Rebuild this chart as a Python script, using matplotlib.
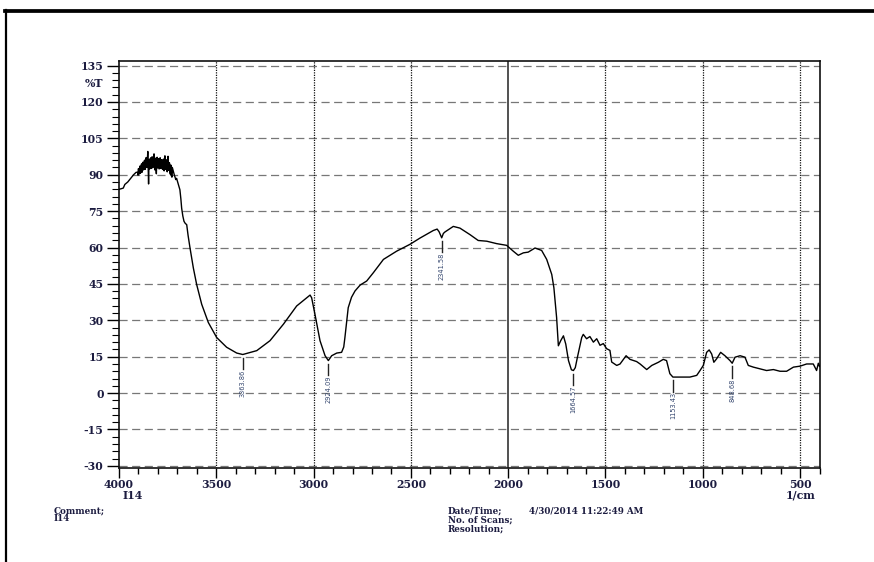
import matplotlib
matplotlib.use("Agg")
import matplotlib.pyplot as plt
from matplotlib.ticker import FixedLocator, MultipleLocator
from matplotlib.lines import Line2D

# ---- spectrum: wavenumber (1/cm) and transmittance (%T) ----
wn_start = [4000, 3990, 3978, 3970, 3955, 3940, 3925, 3912]
t_start = [84.0, 84.2, 84.5, 86.0, 87.0, 88.5, 90.0, 91.0]

# noisy plateau near 3900-3720
wn_noise = [3904, 3902, 3900, 3898, 3896, 3894, 3892, 3890, 3888, 3886,
            3884, 3882, 3880, 3878, 3876, 3874, 3872, 3870, 3868, 3866,
            3864, 3862, 3860, 3858, 3856, 3854, 3852, 3850, 3848, 3846,
            3844, 3842, 3840, 3838, 3836, 3834, 3832, 3830, 3828, 3826,
            3824, 3822, 3820, 3818, 3816, 3814, 3812, 3810, 3808, 3806,
            3804, 3802, 3800, 3798, 3796, 3794, 3792, 3790, 3788, 3786,
            3784, 3782, 3780, 3778, 3776, 3774, 3772, 3770, 3768, 3766,
            3764, 3762, 3760, 3758, 3756, 3754, 3752, 3750, 3748, 3746,
            3744, 3742, 3740, 3738, 3736, 3734, 3732, 3730, 3728, 3726,
            3724]
t_noise = [91.0, 89.8, 92.5, 90.2, 90.8, 92.9, 93.6, 90.6, 91.2, 93.8,
           94.5, 91.0, 91.8, 94.6, 95.2, 92.0, 92.4, 95.8, 96.0, 92.2,
           92.8, 96.3, 97.1, 93.4, 93.0, 96.6, 99.6, 92.8, 86.2, 95.2,
           96.4, 92.4, 93.2, 96.8, 97.0, 92.8, 92.6, 97.4, 96.2, 93.0,
           93.8, 96.0, 98.6, 93.2, 92.0, 96.2, 96.8, 92.6, 90.4, 95.8,
           97.2, 92.8, 93.4, 96.6, 95.8, 92.4, 92.6, 96.8, 97.0, 92.6,
           93.0, 96.2, 95.6, 92.6, 92.2, 96.0, 96.4, 92.0, 91.6, 96.6,
           97.8, 92.2, 92.8, 96.2, 95.4, 91.8, 91.2, 95.8, 97.6, 91.8,
           92.0, 95.0, 94.8, 90.8, 90.2, 94.0, 93.8, 89.6, 89.0, 93.0,
           92.4]

wn_main = [3716, 3708, 3704, 3695, 3687, 3682, 3678, 3672, 3666, 3660,
           3652, 3645, 3635, 3618, 3601, 3575, 3541, 3498, 3447, 3395,
           3363.86, 3292, 3224, 3155, 3087, 3035, 3018, 3010, 2993, 2967,
           2941, 2924.09, 2907, 2881, 2856, 2845, 2839, 2822, 2805, 2787,
           2761, 2727, 2693, 2641, 2573, 2505, 2453, 2385, 2365, 2355,
           2341.58, 2333, 2325, 2282, 2248, 2196, 2154, 2110, 2059, 2008,
           1974, 1948, 1922, 1897, 1862, 1828, 1802, 1776, 1765, 1751,
           1742, 1730, 1716, 1704, 1690, 1675, 1664.57, 1655, 1644, 1622,
           1614, 1597, 1580, 1562, 1545, 1528, 1511, 1494, 1477, 1468,
           1442, 1425, 1394, 1374, 1340, 1322, 1288, 1262, 1228, 1203,
           1186, 1169, 1153.43, 1117, 1066, 1031, 1014, 997, 980, 967,
           954, 943, 929, 908, 886, 860, 848.68, 834, 808, 783,
           766, 740, 706, 672, 637, 603, 569, 534, 500, 466,
           432, 415, 406, 400]
t_main = [90.0, 88.0, 88.5, 86.0, 83.8, 80.0, 76.2, 73.0, 70.8, 70.0,
          69.4, 65.0, 59.8, 51.6, 44.8, 36.6, 29.1, 22.9, 18.9, 16.5,
          15.9, 17.5, 21.6, 28.4, 35.9, 39.3, 40.4, 39.3, 32.5, 21.6,
          15.4, 13.4, 15.4, 16.5, 16.8, 19.0, 22.9, 35.2, 39.5, 42.1,
          44.5, 46.2, 49.6, 55.1, 58.5, 61.3, 63.9, 67.0, 67.6, 66.5,
          64.0, 65.8, 66.4, 68.7, 68.0, 65.3, 62.9, 62.6, 61.6, 60.9,
          58.5, 56.8, 57.8, 58.1, 59.8, 58.8, 55.1, 48.9, 43.4, 31.1,
          19.5, 21.6, 23.6, 20.2, 13.4, 9.6, 9.3, 10.5, 14.8, 22.9,
          24.2, 22.4, 23.3, 21.0, 22.4, 19.7, 20.4, 18.3, 17.6, 12.8,
          11.4, 12.0, 15.4, 13.9, 13.0, 12.0, 9.7, 11.4, 12.7, 13.9,
          13.4, 8.0, 6.6, 6.6, 6.6, 7.3, 9.3, 11.4, 16.8, 17.8,
          16.1, 12.7, 14.1, 16.8, 15.4, 13.4, 12.3, 14.8, 15.4, 14.8,
          11.4, 10.7, 10.0, 9.3, 9.7, 9.0, 9.0, 10.7, 11.1, 12.0,
          12.0, 9.3, 12.3, 11.0]

wavenumber = wn_start + wn_noise + wn_main
transmittance = t_start + t_noise + t_main

# labelled minima
peak_wn = [3363.86, 2924.09, 2341.58, 1664.57, 1153.43, 848.68]
peak_labels = ["3363.86", "2924.09", "2341.58", "1664.57", "1153.43", "848.68"]

x_ticks = [4000, 3500, 3000, 2500, 2000, 1500, 1000, 500]
x_tick_labels = ["4000", "3500", "3000", "2500", "2000", "1500", "1000", "500"]
y_ticks = [-30, -15, 0, 15, 30, 45, 60, 75, 90, 105, 120, 135]
y_tick_labels = ["-30", "-15", "0", "15", "30", "45", "60", "75", "90", "105", "120", "135"]

# ---- figure ----
W, H = 874, 562
fig = plt.figure(figsize=(W / 100, H / 100), dpi=100)
fig.patch.set_facecolor("white")

ax_left, ax_right, ax_top, ax_bottom = 119, 819.5, 60.7, 468.3
ax = fig.add_axes([ax_left / W, 1 - ax_bottom / H,
                   (ax_right - ax_left) / W, (ax_bottom - ax_top) / H])
ax.set_xlim(4000, 400)
ax.set_ylim(-31, 137)

label_color = "#1c1c40"
tick_font = dict(family=["DejaVu Serif"], weight="bold", size=7.8, color=label_color)

# grid: dashed horizontals, dotted verticals, solid line at 2000
for yv in y_ticks:
    ax.axhline(yv, color="#777777", lw=0.9, dashes=(6.5, 3.6), zorder=1)
for xv in x_ticks:
    if xv == 4000:
        continue
    if xv == 2000:
        ax.axvline(xv, color="#222222", lw=1.1, zorder=1)
    else:
        ax.axvline(xv, color="#111111", lw=0.9, ls=(0, (1, 1)), zorder=1)

ax.plot(wavenumber, transmittance, color="black", lw=1.0, zorder=3)

# peak markers with rotated values
for wn_p, txt in zip(peak_wn, peak_labels):
    yv = transmittance[wavenumber.index(wn_p)]
    ax.plot([wn_p, wn_p], [yv - 1.3, yv - 6.0], color="#222222", lw=1.0, zorder=3)
    ax.text(wn_p, yv - 6.3, txt, rotation=90, ha="center", va="top",
            family=["DejaVu Sans"], fontstretch="condensed", size=5.3,
            color="#34466e", zorder=4)

# ticks
ax.xaxis.set_major_locator(FixedLocator(x_ticks))
ax.xaxis.set_minor_locator(MultipleLocator(100))
ax.yaxis.set_major_locator(FixedLocator(y_ticks))
ax.yaxis.set_minor_locator(MultipleLocator(3))
ax.set_xticklabels(x_tick_labels, **tick_font)
ax.set_yticklabels(y_tick_labels, **tick_font)
ax.tick_params(axis="x", which="major", direction="out", length=7.2, width=1.0, pad=0.3)
ax.tick_params(axis="x", which="minor", direction="out", length=4.3, width=1.0)
ax.tick_params(axis="y", which="major", direction="out", length=8.6, width=1.0, pad=2.5)
ax.tick_params(axis="y", which="minor", direction="out", length=5.0, width=0.8)
ax.tick_params(top=False, right=False)
for s in ax.spines.values():
    s.set_linewidth(1.2)
    s.set_color("#111111")

ax.annotate("%T", xy=(0, 127.5), xycoords=("axes fraction", "data"),
            xytext=(-11.3, 0), textcoords="offset points",
            ha="right", va="center", **tick_font)
ax.annotate("I14", xy=(4000, 0), xycoords=("data", "axes fraction"),
            xytext=(9.9, -19.3), textcoords="offset points",
            ha="center", va="center", **tick_font)
ax.annotate("1/cm", xy=(500, 0), xycoords=("data", "axes fraction"),
            xytext=(0, -19.3), textcoords="offset points",
            ha="center", va="center", **tick_font)

# footer information
foot = dict(family=["DejaVu Serif"], weight="bold", size=6.3, color=label_color,
            va="center", ha="left")
def fx(px):
    return px / W
def fy(py):
    return 1 - py / H
fig.text(fx(54), fy(510.7), "Comment;", **foot)
fig.text(fx(54), fy(518.2), "I14", **foot)
fig.text(fx(448), fy(510.7), "Date/Time;", **foot)
fig.text(fx(529), fy(510.7), "4/30/2014 11:22:49 AM", **foot)
fig.text(fx(448), fy(519.8), "No. of Scans;", **foot)
fig.text(fx(448), fy(529.0), "Resolution;", **foot)

# page frame (top and left edges)
fig.add_artist(Line2D([fx(5), 1.0], [fy(10.8), fy(10.8)], color="black", lw=2.7))
fig.add_artist(Line2D([fx(6.3), fx(6.3)], [fy(9.5), 0.0], color="black", lw=1.6))

fig.savefig("out.png", dpi=100, facecolor="white")
